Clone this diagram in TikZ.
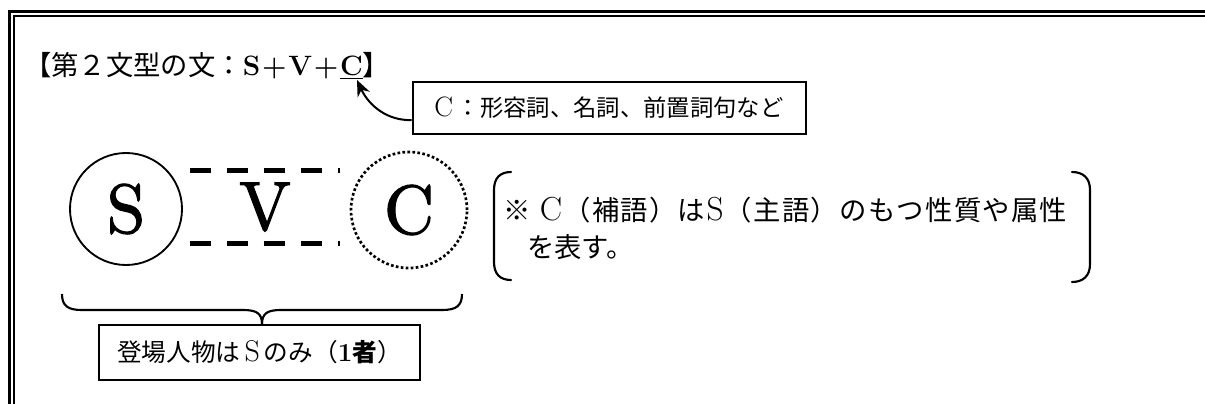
\documentclass[tikz,border=0pt]{standalone}
\usepackage{fontspec}
\newfontfamily\jp{Noto Sans CJK JP}
\newfontfamily\heavy{lmroman10-regular.otf}[FakeBold=1.6]
\newcommand\lat[2]{{\rmfamily\fontsize{#1}{#1}\selectfont #2}}
\makeatletter
\newcommand\spreadto[2]{\makebox[#1][s]{\spr@first#2\relax}}
\def\spr@first#1{#1\spr@next}
\def\spr@next#1{\ifx\relax#1\else\hfil#1\expandafter\spr@next\fi}
\makeatother
\usetikzlibrary{arrows.meta}
\begin{document}
\begin{tikzpicture}[x=0.75pt,y=-0.75pt,
  boxed/.style={draw, line width=1.5pt, rectangle, inner sep=0pt},
  big/.style={font=\heavy\fontsize{52}{56}\selectfont},
  dashline/.style={line width=3.75pt, dash pattern=on 15.75pt off 12pt},
  bracketline/.style={line width=1.6pt, line cap=round},
  jptext/.style={anchor=west, inner sep=0pt, font=\jp\fontsize{20.5}{24}\selectfont}
]
\useasboundingbox (0,0) rectangle (1205,403);
% double frame
\draw[line width=2.25pt] (9,430) -- (9,11.5) -- (1230,11.5);
\draw[line width=1.5pt] (13.5,430) -- (13.5,16.5) -- (1230,16.5);

% title
\node[anchor=west, inner sep=0pt, font=\fontsize{20.5}{24}\selectfont] (title) at (24,66)
  {{\jp 【第２文型の文：}\makebox[90pt][s]{\fontsize{21}{24}\selectfont\bfseries S\hfil+\hfil V\hfil+\hfil\underline{C}}{\jp 】}};
\coordinate (ctip) at (357,80);

% C label box
\node[boxed, minimum width=294.75pt, minimum height=39pt, font=\jp\fontsize{17.5}{21}\selectfont] (cbox) at (609,108)
  {\raisebox{-2pt}{\lat{21}{C}\,：形容詞、名詞、前置詞句など}};
\draw[line width=1.5pt, -{Stealth[length=12pt,width=10pt]}]
  ([yshift=-9pt]cbox.west) .. controls (388,121) and (369,106) .. (ctip);

% S V C
\node[circle, draw, line width=1.4pt, minimum size=84pt, inner sep=0pt, big] (s) at (126,209) {S};
\node[rectangle, minimum width=112.5pt, minimum height=54.75pt, inner sep=0pt, big] (v) at (265,207) {V};
\draw[dashline] (v.north west) -- (v.north east);
\draw[dashline] (v.south west) -- (v.south east);
\node[circle, draw, line width=2pt, dash pattern=on 2pt off 1.75pt, minimum size=87pt, inner sep=0pt, big] (c) at (409,210) {C};

% bracket note
\node[jptext] (note1) at (503,210)
  {\spreadto{423pt}{※{\hspace{5pt}}{\lat{25}{C}}（補語）は{\lat{25}{S}}（主語）のもつ性質や属性}};
\node[jptext] (note2) at (527,247) {を表す。};
\draw[bracketline] (511,172) .. controls (500,172) and (494,178) .. (494,190) -- (494,262)
  .. controls (494,274) and (500,280) .. (511,280);
\draw[bracketline] (1072,172) .. controls (1083,172) and (1090,178) .. (1090,190) -- (1090,264)
  .. controls (1090,276) and (1083,282) .. (1072,282);

% brace under S V C
\draw[line width=1.6pt] (62,294) .. controls (62,306) and (68,310) .. (82,310) -- (243,310)
  .. controls (256,310) and (262,313) .. (262,324);
\draw[line width=1.6pt] (462,294) .. controls (462,306) and (456,310) .. (442,310) -- (281,310)
  .. controls (268,310) and (262,313) .. (262,324);

% bottom box
\node[boxed, minimum width=240.75pt, minimum height=41.25pt, font=\jp\fontsize{18.5}{21}\selectfont] (who) at (259.5,352.5)
  {\raisebox{-2pt}{登場人物は\,\lat{22.5}{S}\,のみ（\textbf{\lat{19.5}{\bfseries 1}者}）}};
\end{tikzpicture}
\end{document}
